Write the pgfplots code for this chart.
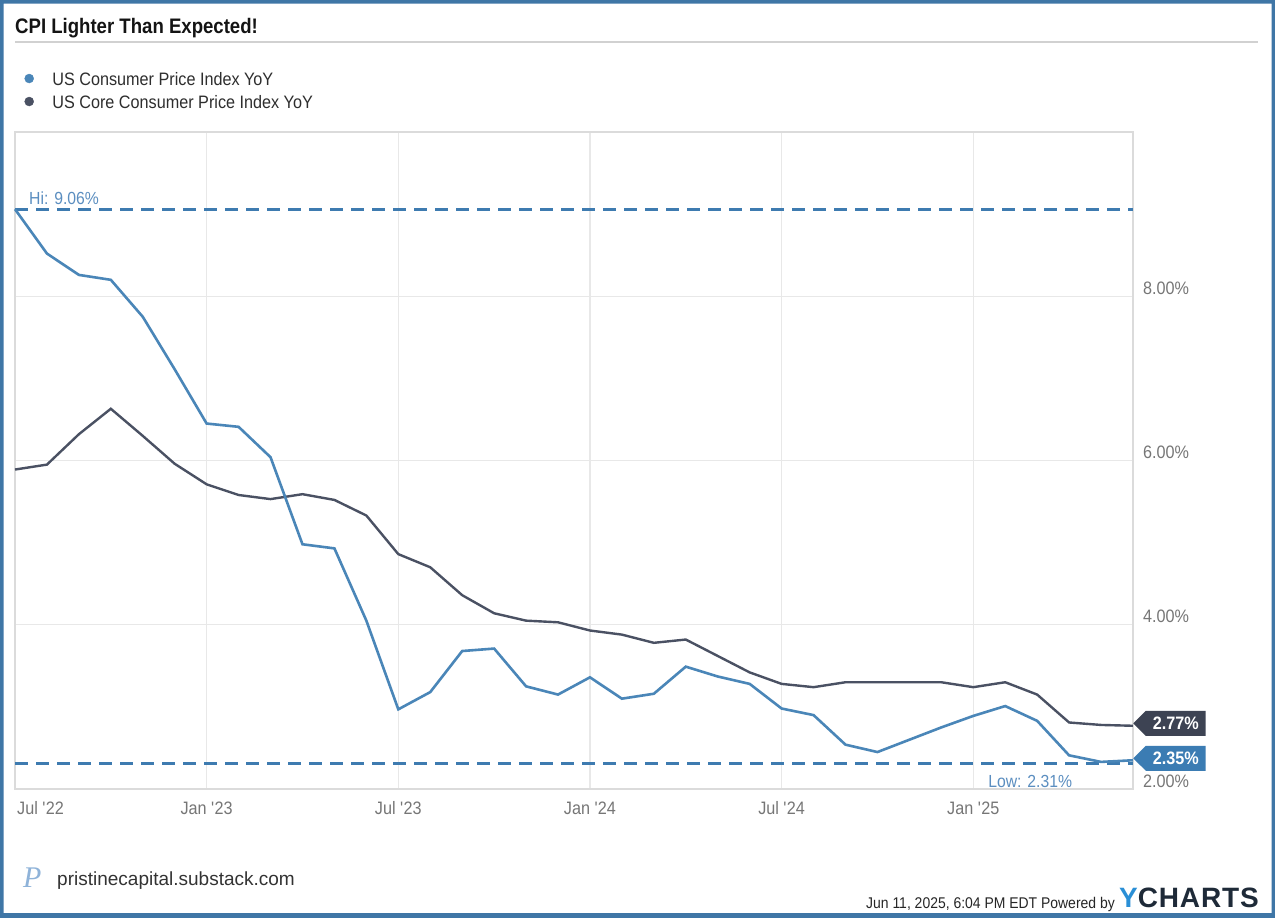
\documentclass[border=0pt]{standalone}
\usepackage{fontspec}
\setmainfont{Liberation Sans}
\newfontfamily\condfont{Liberation Sans}[FakeStretch=0.9]
\newfontfamily\titlefont{Liberation Sans}[FakeStretch=0.885]
\newfontfamily\ychfont{Liberation Sans}[LetterSpace=3]
\newfontfamily\logofont{Liberation Serif}
\usepackage{pgfplots}
\pgfplotsset{compat=1.18}
\usetikzlibrary{shapes.symbols}

\definecolor{cpiblue}{HTML}{4A86B8}
\definecolor{coregray}{HTML}{4A5163}
\definecolor{hiblue}{HTML}{3E7BB0}
\definecolor{lblblue}{HTML}{5B8EC0}
\definecolor{tickgray}{HTML}{767676}
\definecolor{frameblue}{HTML}{3F76A6}
\definecolor{tagdark}{HTML}{3D4353}
\definecolor{tagblue}{HTML}{3B7CB3}
\definecolor{ychblue}{HTML}{2A8FD6}
\definecolor{ychdark}{HTML}{1E2A38}
\definecolor{logoblue}{HTML}{8FB3D9}

\begin{document}
\begin{tikzpicture}
\useasboundingbox (0bp,0bp) rectangle (1275bp,-918bp);
\fill[white] (0bp,0bp) rectangle (1275bp,-918bp);
\fill[frameblue, even odd rule] (0bp,0bp) rectangle (1275bp,-918bp)
  (3.5bp,-3.5bp) rectangle (1271.5bp,-913bp);

% title and rule
\node[anchor=base west, inner sep=0pt, text=black!92] at (15bp,-33bp)
  {\titlefont\bfseries\fontsize{21bp}{24bp}\selectfont CPI Lighter Than Expected!};
\draw[black!18, line width=1.2bp] (15bp,-42bp) -- (1258bp,-42bp);

\begin{axis}[
  at={(15bp,-789bp)}, anchor=south west,
  scale only axis, width=1118bp, height=657bp,
  xmin=0, xmax=35, ymin=2, ymax=10,
  clip=false,
  axis line style={draw=black!14, line width=1.3bp},
  grid=major, grid style={draw=black!9, line width=1.2bp},
  major tick length=0pt,
  xtick={6,12,18,24,30},
  xticklabels={Jan \textquotesingle23, Jul \textquotesingle23, Jan \textquotesingle24, Jul \textquotesingle24, Jan \textquotesingle25},
  extra x ticks={0},
  extra x tick labels={Jul \textquotesingle22},
  extra x tick style={grid=none, xticklabel style={anchor=base west, xshift=2bp}},
  xticklabel style={anchor=base, inner sep=0pt, yshift=-25bp,
    font=\condfont\fontsize{18bp}{20bp}\selectfont, text=tickgray},
  ytick={2,4,6,8},
  yticklabels={2.00\%, 4.00\%, 6.00\%, 8.00\%},
  yticklabel pos=right,
  yticklabel style={anchor=base west, inner sep=0pt, xshift=10bp, yshift=2bp,
    font=\condfont\fontsize{18bp}{20bp}\selectfont, text=tickgray},
  legend style={at={(axis description cs:0.0085,1.0913)}, anchor=north west,
    draw=none, fill=none, inner sep=0pt, outer sep=0pt, row sep=6bp,
    font=\condfont\fontsize{18bp}{20bp}\selectfont, text=black!82,
    nodes={inner sep=0pt, text height=13bp, text depth=4bp, anchor=base west},
    /tikz/every odd column/.append style={column sep=18.5bp}},
  legend cell align=left,
  legend image code/.code={\fill[#1] (4.5bp,6.5bp) circle (4.5bp);},
]
\addlegendimage{cpiblue}
\addlegendentry{US Consumer Price Index YoY}
\addlegendimage{coregray}
\addlegendentry{US Core Consumer Price Index YoY}

% high / low reference lines
\addplot[forget plot, hiblue, line width=2.6bp, dash pattern=on 13bp off 8bp]
  coordinates {(0,9.06) (35,9.06)};
\addplot[forget plot, hiblue, line width=2.6bp, dash pattern=on 13bp off 8bp]
  coordinates {(0,2.31) (35,2.31)};

% core CPI YoY, Jun 2022 .. May 2025
\addplot[forget plot, coregray, line width=2.4bp] coordinates {
  (0,5.89) (1,5.95) (2,6.32) (3,6.63) (4,6.30) (5,5.96) (6,5.71) (7,5.58)
  (8,5.53) (9,5.59) (10,5.52) (11,5.33) (12,4.86) (13,4.70) (14,4.36) (15,4.14)
  (16,4.05) (17,4.03) (18,3.93) (19,3.88) (20,3.78) (21,3.82) (22,3.62) (23,3.42)
  (24,3.28) (25,3.24) (26,3.30) (27,3.30) (28,3.30) (29,3.30) (30,3.24) (31,3.30)
  (32,3.15) (33,2.81) (34,2.78) (35,2.77)
};
% headline CPI YoY
\addplot[forget plot, cpiblue, line width=2.6bp] coordinates {
  (0,9.06) (1,8.52) (2,8.26) (3,8.20) (4,7.75) (5,7.11) (6,6.45) (7,6.41)
  (8,6.04) (9,4.98) (10,4.93) (11,4.05) (12,2.97) (13,3.18) (14,3.68) (15,3.71)
  (16,3.25) (17,3.15) (18,3.36) (19,3.10) (20,3.16) (21,3.49) (22,3.37) (23,3.28)
  (24,2.98) (25,2.90) (26,2.54) (27,2.45) (28,2.60) (29,2.75) (30,2.89) (31,3.01)
  (32,2.83) (33,2.41) (34,2.33) (35,2.35)
};

\node[anchor=base west, inner sep=0pt, text=lblblue, xshift=14bp, yshift=5bp,
  font=\condfont\fontsize{17.5bp}{20bp}\selectfont] at (axis cs:0,9.06) {Hi: 9.06\%};
\node[anchor=base east, inner sep=0pt, text=lblblue, yshift=-24bp,
  font=\condfont\fontsize{17.5bp}{20bp}\selectfont] at (axis cs:33.1,2.31) {Low: 2.31\%};

\node[signal, signal to=west, fill=tagdark, text=white, minimum height=25bp,
  inner xsep=7bp, inner ysep=0pt, anchor=west, yshift=2.5bp,
  font=\condfont\bfseries\fontsize{18bp}{20bp}\selectfont] at (axis cs:35,2.77) {2.77\%};
\node[signal, signal to=west, fill=tagblue, text=white, minimum height=25bp,
  inner xsep=7bp, inner ysep=0pt, anchor=west, yshift=2bp,
  font=\condfont\bfseries\fontsize{18bp}{20bp}\selectfont] at (axis cs:35,2.35) {2.35\%};
\end{axis}

% footer
\node[anchor=base west, inner sep=0pt, text=logoblue] at (23bp,-887bp)
  {\logofont\itshape\fontsize{30bp}{30bp}\selectfont P};
\node[anchor=base west, inner sep=0pt, text=black!80] at (57bp,-885bp)
  {\fontsize{19bp}{22bp}\selectfont pristinecapital.substack.com};
\node[anchor=base east, inner sep=0pt, text=black!85] at (1115bp,-908bp)
  {\condfont\fontsize{15.5bp}{18bp}\selectfont Jun 11, 2025, 6:04 PM EDT Powered by};
\node[anchor=base west, inner sep=0pt] at (1119bp,-907bp)
  {\ychfont\bfseries\fontsize{28bp}{28bp}\selectfont{\color{ychblue}Y}{\color{ychdark}CHARTS}};
\end{tikzpicture}
\end{document}
